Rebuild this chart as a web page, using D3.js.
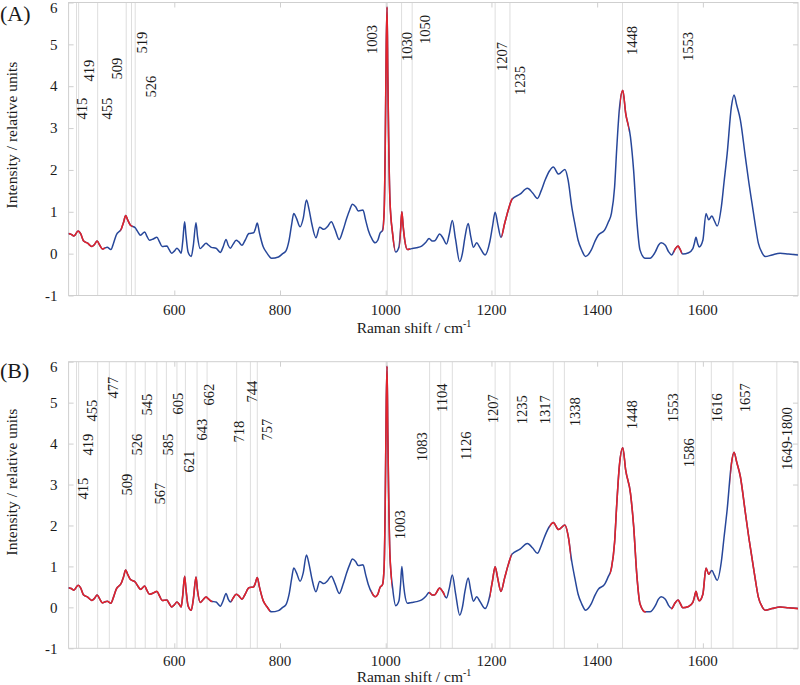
<!DOCTYPE html>
<html><head><meta charset="utf-8">
<script src="https://cdn.jsdelivr.net/npm/d3@7"></script>
<style>
body{margin:0;background:#fff}
svg{display:block}
svg text{font-family:"Liberation Serif","Times New Roman",Times,"DejaVu Serif",serif;fill:#1a1a1a}
</style>
</head><body>
<svg id="chart" width="800" height="685" font-family="Liberation Serif, Times New Roman, Times, DejaVu Serif, serif"></svg>
<script>
// ---------- data ----------
const wavenumber = [400,405,410,418,423,428,436,444,449,454,459,464,468,473,480,485,490,500,504,508,512,517,526,531,536,544,548,553,560,567,572,577,586,590,595,600,605,609,613,616,619.5,622,626,632,636,641,644,649,654,660,665,670,679,687,692,698,702,706,711,717,722,728,734,741,750,753,757,761,768,775,784,797,805,811,817,822,826,831,838,844,850,855,860,868,875,883,890,897,904,912,919,926,932,937,943,948,957,962,967,974,980,985,989,994,997,999,1001,1002.5,1004,1005.5,1008,1013,1019,1025,1028,1030.5,1033,1036,1041,1049,1058,1068,1076,1082,1088,1093,1102,1108,1115,1120,1126,1132,1140,1145,1150,1156,1161,1166,1172,1178,1188,1197,1202,1207,1212,1218,1225,1232,1239,1254,1268,1278,1287,1294,1301,1310,1317,1327,1339,1345,1352,1358,1364,1371,1378,1389,1396,1402,1414,1421,1427,1433,1437,1442,1448.5,1454,1463,1469,1475,1481,1491,1500,1510,1516,1521,1529,1535,1541,1547,1553,1557,1562,1573,1581,1584,1587,1590,1593,1600,1606,1611,1617,1622,1627,1635,1640,1646,1654,1659,1664,1671,1680,1687,1693,1699,1705,1712,1718,1731,1746,1762,1780];
const intensity = [0.48,0.46,0.42,0.54,0.47,0.31,0.25,0.17,0.22,0.30,0.20,0.11,0.13,0.15,0.10,0.25,0.44,0.60,0.75,0.91,0.80,0.68,0.62,0.52,0.44,0.52,0.42,0.32,0.35,0.39,0.28,0.17,0.18,0.10,0.01,0.06,0.13,0.08,0.01,0.30,0.76,0.45,0.04,-0.07,0.20,0.74,0.40,0.12,0.18,0.25,0.20,0.15,0.13,0.03,0.15,0.34,0.20,0.13,0.22,0.32,0.28,0.20,0.32,0.48,0.50,0.58,0.73,0.50,0.17,0.02,-0.11,-0.08,0.00,0.06,0.31,0.70,0.96,0.85,0.64,0.85,1.28,1.05,0.72,0.38,0.63,0.58,0.65,0.76,0.58,0.34,0.55,0.84,1.05,1.18,1.12,1.02,1.04,0.80,0.56,0.35,0.26,0.32,0.48,0.56,1.0,2.5,5.0,5.89,4.2,2.8,1.27,0.48,0.04,0.16,0.55,1.0,0.65,0.32,0.10,0.12,0.14,0.18,0.27,0.36,0.30,0.31,0.47,0.38,0.23,0.45,0.79,0.35,-0.19,0.0,0.40,0.72,0.40,0.15,0.26,0.15,-0.03,0.29,0.65,0.99,0.70,0.39,0.72,1.05,1.30,1.42,1.56,1.45,1.32,1.50,1.74,1.98,2.07,1.90,2.01,1.76,1.12,0.70,0.32,0.08,-0.07,0.09,0.30,0.44,0.56,0.75,0.96,1.59,2.5,3.45,3.90,3.35,2.79,1.99,0.80,0.09,-0.11,-0.11,0.04,0.20,0.26,0.20,0.05,-0.03,0.10,0.18,0.10,-0.01,0.02,0.12,0.25,0.39,0.25,0.16,0.32,0.96,0.81,0.90,0.78,0.66,1.12,1.70,2.39,3.51,3.79,3.55,3.19,2.35,1.70,1.20,0.70,0.25,0.02,-0.07,-0.03,0.01,-0.01,-0.03];

const xTicks = [600, 800, 1000, 1200, 1400, 1600];
const yTicks = [-1, 0, 1, 2, 3, 4, 5, 6];

const bandsA = [415, 419, 455, 509, 519, 526, 1003, 1030, 1050, 1207, 1235, 1448, 1553];
const bandLabelsA = ["415","419","455","509","519","526","1003","1030","1050","1207","1235","1448","1553"];
const redRangesA = [[400,469],[498,521],[994,1017],[1026,1046],[1219,1240],[1443,1460],[1545,1560]];

const bandsB = [415,419,455,477,509,526,545,567,585,605,621,643,662,718,744,757,1003,1083,1104,1126,1207,1235,1317,1338,1448,1553,1586,1616,1657,1740];
const bandLabelsB = ["415","419","455","477","509","526","545","567","585","605","621","643","662","718","744","757","1003","1083","1104","1126","1207","1235","1317","1338","1448","1553","1586","1616","1657","1649-1800"];
const redRangesB = [[400,672],[708,781],[973,1012],[1082,1112],[1197,1238],[1310,1350],[1424,1492],[1540,1614],[1652,1780]];

// ---------- layout (positions/styles kept apart from data) ----------
const layoutA = {
  tag: "(A)", top: 2.5, bottom: 295.5, tickLabelY: 315, titleY: 333, yTitleCy: 135, tagY: 21,
  labelDx: [5.5,11,10,-9,10.5,16,-15,6,13,7,10,10,10],
  labelCy: [106,68,106,66,40,84,37,44,27,54,78,38,44]
};
const layoutB = {
  tag: "(B)", top: 361.7, bottom: 648.3, tickLabelY: 665.5, titleY: 681.5, yTitleCy: 482, tagY: 378,
  labelDx: [6.5,10,-5,4,1,2,2,3,2,1,4,5,2,3,2,10,13,-7,2,14,-2,12,-8,11,10,-5,-6,6,12,10],
  labelCy: [127,83,49,26,123,83,43,132,83,42,100,68,33,70,30,68,163,85,36,84,47,48,48,50,53,46,91,46,36,77]
};
const left = 68.6, right = 798;
const BLUE = "#27479a", RED = "#e2232b", FRAME = "#cfcfcf", BANDLINE = "#dedede";
const FONT = "Liberation Serif, Times New Roman, Times, DejaVu Serif, serif";

const svg = d3.select("#chart");
const data = wavenumber.map((w, i) => ({w, v: intensity[i]}));

function panel(id, lay, bands, bandLabels, redRanges) {
  const x = d3.scaleLinear().domain([400, 1780]).range([left, right]);
  const y = d3.scaleLinear().domain([-1, 6]).range([lay.bottom, lay.top]);
  const g = svg.append("g").attr("font-family", FONT);

  // band lines
  g.selectAll(".band").data(bands).join("line")
    .attr("x1", d => x(d)).attr("x2", d => x(d))
    .attr("y1", lay.top).attr("y2", lay.bottom)
    .attr("stroke", BANDLINE).attr("stroke-width", 1);

  // frame
  g.append("rect").attr("x", left).attr("y", lay.top)
    .attr("width", right - left).attr("height", lay.bottom - lay.top)
    .attr("fill", "none").attr("stroke", FRAME).attr("stroke-width", 1);

  // axes with inward ticks
  const ax = g.append("g").attr("transform", `translate(0,${lay.bottom})`)
    .call(d3.axisBottom(x).tickValues(xTicks).tickSize(-5).tickFormat(""));
  const axT = g.append("g").attr("transform", `translate(0,${lay.top})`)
    .call(d3.axisTop(x).tickValues(xTicks).tickSize(-5).tickFormat(""));
  const ay = g.append("g").attr("transform", `translate(${left},0)`)
    .call(d3.axisLeft(y).tickValues(yTicks).tickSize(-5).tickFormat(""));
  const ayR = g.append("g").attr("transform", `translate(${right},0)`)
    .call(d3.axisRight(y).tickValues(yTicks).tickSize(-5).tickFormat(""));
  [ax, axT, ay, ayR].forEach(a => {
    a.select(".domain").remove();
    a.selectAll("line").attr("stroke", FRAME);
  });

  // tick labels
  g.selectAll(".xt").data(xTicks).join("text")
    .attr("font-family", FONT)
    .attr("x", d => x(d)).attr("y", lay.tickLabelY)
    .attr("text-anchor", "middle").attr("font-size", 15).text(d => d);
  g.selectAll(".yt").data(yTicks).join("text")
    .attr("font-family", FONT)
    .attr("x", left - 11).attr("y", d => Math.max(y(d), lay.top + 5)).attr("dy", "0.35em")
    .attr("text-anchor", "end").attr("font-size", 15).text(d => d);

  // titles
  const t = g.append("text").attr("font-family", FONT)
    .attr("x", 414).attr("y", lay.titleY)
    .attr("text-anchor", "middle").attr("font-size", 15.5);
  t.append("tspan").text("Raman shift / cm");
  t.append("tspan").attr("dy", -6).attr("font-size", 10).text("-1");
  g.append("text").attr("font-family", FONT)
    .attr("transform", `translate(12,${lay.yTitleCy}) rotate(-90)`)
    .attr("text-anchor", "middle").attr("dy", "0.35em").attr("font-size", 15.5)
    .text("Intensity / relative units");
  g.append("text").attr("font-family", FONT)
    .attr("x", 0).attr("y", lay.tagY).attr("font-size", 22).text(lay.tag);

  // band labels
  g.selectAll(".bl").data(bands).join("text")
    .attr("font-family", FONT)
    .attr("transform", (d, i) => `translate(${x(d) + lay.labelDx[i]},${lay.top + lay.labelCy[i]}) rotate(-90)`)
    .attr("text-anchor", "middle").attr("dy", "0.33em").attr("font-size", 14.5)
    .text((d, i) => bandLabels[i]);

  // spectrum
  const line = d3.line().x(d => x(d.w)).y(d => y(d.v)).curve(d3.curveMonotoneX);
  g.append("path").datum(data).attr("d", line)
    .attr("fill", "none").attr("stroke", BLUE).attr("stroke-width", 1.5);
  redRanges.forEach((r, i) => {
    const cid = `clip-${id}-${i}`;
    svg.append("clipPath").attr("id", cid).append("rect")
      .attr("x", x(r[0])).attr("width", x(r[1]) - x(r[0]))
      .attr("y", lay.top - 5).attr("height", lay.bottom - lay.top + 10);
    g.append("path").datum(data).attr("d", line).attr("clip-path", `url(#${cid})`)
      .attr("fill", "none").attr("stroke", RED).attr("stroke-width", 1.6);
  });
}

panel("A", layoutA, bandsA, bandLabelsA, redRangesA);
panel("B", layoutB, bandsB, bandLabelsB, redRangesB);
</script>
</body></html>
